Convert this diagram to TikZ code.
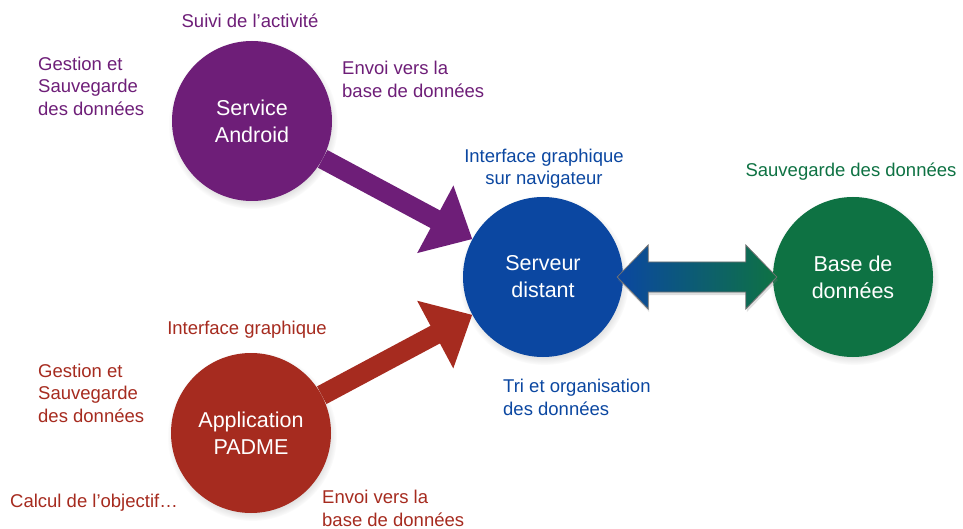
\documentclass[tikz,border=0pt]{standalone}
\usepackage{fontspec}
\setmainfont{Liberation Sans}
\usetikzlibrary{arrows.meta,shadows,calc}
\definecolor{cpurple}{HTML}{6E1E78}
\definecolor{cblue}{HTML}{0B47A1}
\definecolor{cgreen}{HTML}{0E7243}
\definecolor{cred}{HTML}{A62B1F}
\begin{document}
\begin{tikzpicture}[x=1pt,y=-1pt,
  hub/.style={circle, minimum size=160pt, inner sep=0pt, text=white, align=center,
    font=\fontsize{21.5}{27}\selectfont,
    circular drop shadow={shadow xshift=1pt, shadow yshift=-3pt, shadow scale=1.06, opacity=0.35}},
  lbl/.style={inner sep=0pt, font=\fontsize{18.5}{22.5}\selectfont},
  fat/.style={line width=20pt, -{Triangle[length=42pt,width=74pt]}}]
\fill[white] (0,0) rectangle (963,529);
\useasboundingbox (0,0) rectangle (963,529);
% hubs
\node[hub, fill=cpurple] (sa) at (252,121) {Service\\Android};
\node[hub, fill=cred] (pa) at (251,433) {Application\\PADME};
\node[hub, fill=cblue] (sd) at (543,277) {Serveur\\distant};
\node[hub, fill=cgreen] (db) at (853,277) {Base de\\données};
% arrows
\draw[fat, cpurple] (sa) -- (sd);
\draw[fat, cred] (pa) -- (sd);
\coordinate (L) at ($(sd.east)+(-6,0)$);
\coordinate (R) at ($(db.west)+(4,0)$);
\draw[draw=black!55, line width=0.8pt, left color=cblue, right color=cgreen,
  drop shadow={shadow xshift=1pt, shadow yshift=-3pt, opacity=0.25}]
  (L) -- ++(31,-32) -- ++(0,17) -- ($(R)+(-31,-15)$) -- ++(0,-17) -- (R)
  -- ++(-31,32) -- ++(0,-17) -- ($(L)+(31,15)$) -- ++(0,17) -- cycle;
% labels purple
\node[lbl, text=cpurple] (t1) at (250,21) {Suivi de l’activité};
\node[lbl, text=cpurple, anchor=west, align=left] (t2) at (38,86) {Gestion et\\Sauvegarde\\des données};
\node[lbl, text=cpurple, anchor=west, align=left] (t3) at (342,79.5) {Envoi vers la\\base de données};
% labels blue
\node[lbl, text=cblue, align=center] (t4) at (544,168.5) {Interface graphique\\sur navigateur};
\node[lbl, text=cblue, anchor=west, align=left] (t5) at (503,397.5) {Tri et organisation\\des données};
% label green
\node[lbl, text=cgreen] (t6) at (851,172) {Sauvegarde des données};
% labels red
\node[lbl, text=cred] (t7) at (247,330) {Interface graphique};
\node[lbl, text=cred, anchor=west, align=left] (t8) at (38,393) {Gestion et\\Sauvegarde\\des données};
\node[lbl, text=cred, anchor=west] (t9) at (10,503) {Calcul de l’objectif…};
\node[lbl, text=cred, anchor=west, align=left] (t10) at (322,508.5) {Envoi vers la\\base de données};
\end{tikzpicture}
\end{document}
